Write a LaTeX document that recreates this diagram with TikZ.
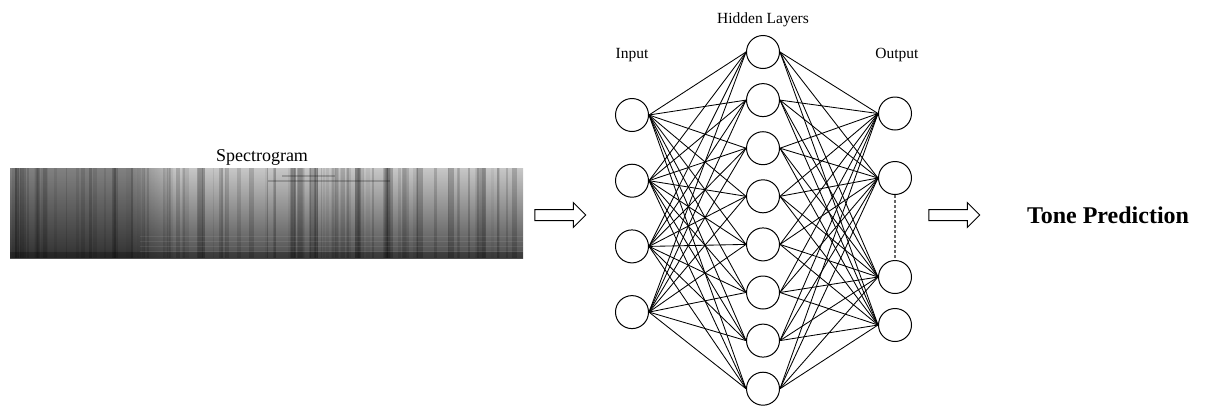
\documentclass[tikz,border=0pt]{standalone}
\usepackage{fontspec}
\setmainfont{Liberation Serif}
\usetikzlibrary{positioning,shapes.arrows,fadings}

\begin{document}
\begin{tikzpicture}[
  x=1pt,y=-1pt,
  neuron/.style={draw,circle,minimum size=33pt,inner sep=0pt,line width=1pt,fill=white},
  link/.style={line width=0.85pt},
  layer_label/.style={font=\fontsize{15.5}{17}\selectfont},
  blockarrow/.style={draw,single arrow,minimum height=51pt,inner xsep=0pt,inner ysep=5pt,
                     single arrow head extend=7pt,line width=1pt},
]
\useasboundingbox (0,0) rectangle (1207,410);

%% ===== Spectrogram ===========================================================
\shade[top color=black!22,bottom color=black!70] (10,168) rectangle (523,258);
\fill[black,fill opacity=0.35] (10,168) rectangle (130,258);
\fill[black,fill opacity=0.35,path fading=east] (130,168) rectangle (175,258);
\pgfmathsetseed{11}
\foreach \k in {1,...,120}{
  \pgfmathsetmacro\sx{12+508*rnd}
  \pgfmathsetmacro\sw{1+4*rnd}
  \pgfmathsetmacro\so{0.04+0.14*rnd}
  \fill[black,fill opacity=\so] (\sx,168) rectangle ++(\sw,90);
}
% darker columns
\foreach \sx in {197,290,310,355,387,417,448,480}
  \fill[black,fill opacity=0.2] (\sx,168) rectangle ++(6,90);
\draw[black,line width=2pt,opacity=0.2] (268,181) -- (390,181);
\draw[black,line width=1.2pt,opacity=0.2] (282,176) -- (335,176);
\foreach \yy in {236,241,246,251}
  \draw[white,opacity=0.08] (140,\yy) -- (523,\yy);
\fill[black,fill opacity=0.25] (10,252) rectangle (523,258);
\node[font=\fontsize{18}{20}\selectfont] (speclbl) at (262,157) {Spectrogram};

%% ===== Arrows ================================================================
\node[blockarrow] (arr1) at (557.5,215) {};
\node[blockarrow] (arr2) at (951.5,215) {};

%% ===== Network ===============================================================
\foreach \i/\yy in {1/115,2/180.7,3/246.4,4/312.1}
  \node[neuron] (in\i) at (632,\yy) {};
\foreach \j in {1,...,8}
  \node[neuron] (hid\j) at (763,{52+48.1*(\j-1)}) {};
\foreach \o/\yy in {1/113.5,2/178,3/277,4/325}
  \node[neuron] (out\o) at (895,\yy) {};

\foreach \i in {1,...,4}
  \foreach \j in {1,...,8}
    \draw[link] (in\i.east) -- (hid\j.west);
\foreach \j in {1,...,8}
  \foreach \o in {1,...,4}
    \draw[link] (hid\j.east) -- (out\o.west);

\draw[black!60,line width=1.2pt,dash pattern=on 3pt off 2pt] (out2) -- (out3);

\node[layer_label] (lblin) at (632,55) {Input};
\node[layer_label] (lblhid) at (763,20) {Hidden Layers};
\node[layer_label] (lblout) at (897,55) {Output};

%% ===== Result ================================================================
\node[font=\fontsize{24}{26}\selectfont\bfseries] (tone) at (1108,215) {Tone Prediction};

\end{tikzpicture}
\end{document}
